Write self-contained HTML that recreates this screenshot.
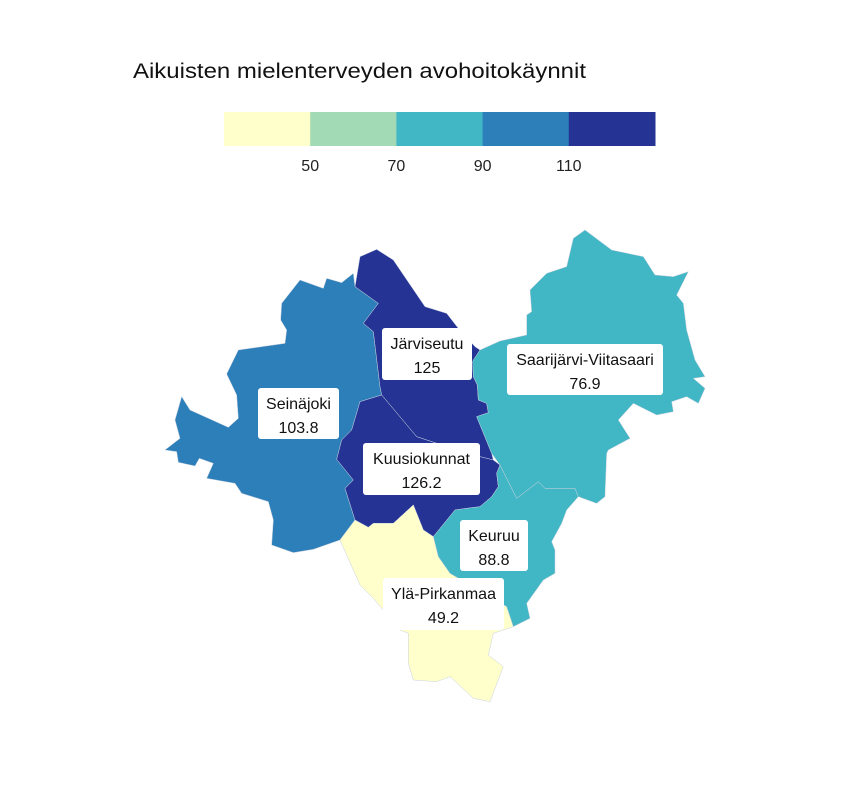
<!DOCTYPE html>
<html><head><meta charset="utf-8">
<style>
body{margin:0;background:#fff;font-family:"Liberation Sans",sans-serif;}
svg{display:block}
</style></head>
<body>
<svg id="chart" width="864" height="792" viewBox="0 0 864 792">
<text x="133" y="78" font-size="21" textLength="453" lengthAdjust="spacingAndGlyphs" fill="#111">Aikuisten mielenterveyden avohoitokäynnit</text>
<g id="legend"></g>
<g id="map"></g>
<g id="labels"></g>
</svg>
<script>
const regions = ["Seinäjoki","Järviseutu","Kuusiokunnat","Ylä-Pirkanmaa","Keuruu","Saarijärvi-Viitasaari"];
const values = [103.8, 125, 126.2, 49.2, 88.8, 76.9];
const breaks = [50, 70, 90, 110];
const palette = ["#ffffcc","#a1dab4","#41b6c4","#2c7fb8","#253494"];
const tickLabels = ["50","70","90","110"];

const shapes = {
"Seinäjoki":{t:[160,230],p:[[420,150],[490,175],[500,145],[545,158],[580,130],[585,170],[655,220],[610,280],[640,305],[660,470],[665,495],[600,515],[575,600],[545,630],[530,688],[580,750],[555,775],[585,870],[540,930],[460,958],[400,968],[335,945],[340,870],[325,815],[245,790],[225,760],[140,745],[160,700],[118,685],[105,708],[55,697],[50,665],[15,660],[60,625],[45,570],[65,500],[90,540],[205,592],[235,565],[230,495],[200,432],[235,360],[375,340],[380,300],[362,270],[365,220]]},
"Järviseutu":{t:[160,230],p:[[585,170],[600,80],[650,58],[700,90],[795,230],[860,250],[895,295],[945,350],[960,360],[938,395],[940,440],[952,465],[955,510],[980,520],[985,548],[950,560],[995,670],[1000,690],[960,680],[830,640],[770,620],[665,495],[660,470],[640,305],[610,280],[655,220]]},
"Kuusiokunnat":{t:[160,230],p:[[665,495],[770,620],[830,640],[960,680],[1000,690],[1020,705],[1010,730],[1015,770],[995,800],[960,830],[920,835],[885,840],[820,920],[790,900],[760,825],[700,880],[640,880],[625,892],[585,870],[555,775],[580,750],[530,688],[545,630],[575,600],[600,515]]},
"Ylä-Pirkanmaa":{t:[160,230],p:[[540,930],[585,870],[625,892],[640,880],[700,880],[760,825],[790,900],[820,920],[835,980],[870,1030],[1040,1130],[1060,1190],[1000,1210],[985,1275],[1030,1310],[990,1415],[940,1405],[870,1340],[830,1355],[760,1350],[745,1300],[745,1210],[720,1200],[640,1105],[600,1065]]},
"Keuruu":{t:[420,220],p:[[40,950],[105,870],[140,865],[180,860],[215,830],[235,800],[230,760],[240,735],[290,835],[355,785],[375,805],[465,805],[475,830],[440,870],[425,910],[395,965],[405,990],[405,1060],[370,1080],[320,1150],[330,1195],[280,1220],[260,1160],[90,1060],[55,1010]]},
"Saarijärvi-Viitasaari":{t:[420,220],p:[[160,420],[180,390],[240,363],[320,345],[320,285],[335,275],[330,210],[380,160],[440,140],[460,55],[495,30],[575,90],[670,110],[705,165],[760,170],[805,155],[770,225],[790,250],[800,330],[825,420],[855,470],[820,475],[855,505],[835,550],[800,530],[755,545],[760,575],[710,585],[640,550],[595,600],[630,655],[565,690],[560,700],[555,830],[530,850],[475,830],[465,805],[375,805],[355,785],[290,835],[240,735],[215,700],[170,590],[205,578],[200,550],[175,540],[172,495],[160,470],[158,425]]}
};
const labelBoxes = {
"Seinäjoki":[258,388,81,51],
"Järviseutu":[382,328,90,52],
"Kuusiokunnat":[363,443,117,52],
"Ylä-Pirkanmaa":[383,578,121,52],
"Keuruu":[460,520,68,51],
"Saarijärvi-Viitasaari":[507,344,156,51]
};
const NS="http://www.w3.org/2000/svg";
function colorFor(v){let i=0;while(i<breaks.length&&v>=breaks[i])i++;return palette[i];}

const lg=document.getElementById('legend');
const lx0=224,lw=431/palette.length;
palette.forEach((c,i)=>{
  const r=document.createElementNS(NS,'rect');
  r.setAttribute('x',lx0+i*lw);r.setAttribute('y',112);r.setAttribute('width',lw+0.5);r.setAttribute('height',34);r.setAttribute('fill',c);
  
  
  lg.appendChild(r);
});
tickLabels.forEach((t,i)=>{
  const tx=document.createElementNS(NS,'text');
  tx.setAttribute('x',lx0+(i+1)*lw);tx.setAttribute('y',171);tx.setAttribute('text-anchor','middle');tx.setAttribute('font-size','16');tx.setAttribute('fill','#222');
  tx.textContent=t;
  
  
  lg.appendChild(tx);
});

const mg=document.getElementById('map'),lb=document.getElementById('labels');
regions.forEach((name,i)=>{
  const s=shapes[name];
  const g=document.createElementNS(NS,'g');
  g.setAttribute('transform','translate('+s.t[0]+','+s.t[1]+') scale(0.33333)');
  const pg=document.createElementNS(NS,'polygon');
  pg.setAttribute('points',s.p.map(q=>q.join(',')).join(' '));
  pg.setAttribute('fill',colorFor(values[i]));
  pg.setAttribute('stroke','#c8d0e0');pg.setAttribute('stroke-width','1.5');
  
  
  g.appendChild(pg);mg.appendChild(g);
  const b=labelBoxes[name];
  const lgp=document.createElementNS(NS,'g');
  
  
  const r=document.createElementNS(NS,'rect');
  r.setAttribute('x',b[0]);r.setAttribute('y',b[1]);r.setAttribute('width',b[2]);r.setAttribute('height',b[3]);r.setAttribute('rx',3);r.setAttribute('fill','#fff');
  lgp.appendChild(r);
  [name,String(values[i])].forEach((t,k)=>{
    const tx=document.createElementNS(NS,'text');
    tx.setAttribute('x',b[0]+b[2]/2);tx.setAttribute('y',b[1]+21+k*24);tx.setAttribute('text-anchor','middle');tx.setAttribute('font-size','16');tx.setAttribute('fill','#111');
    tx.textContent=t;lgp.appendChild(tx);
  });
  lb.appendChild(lgp);
});
</script>
</body></html>
